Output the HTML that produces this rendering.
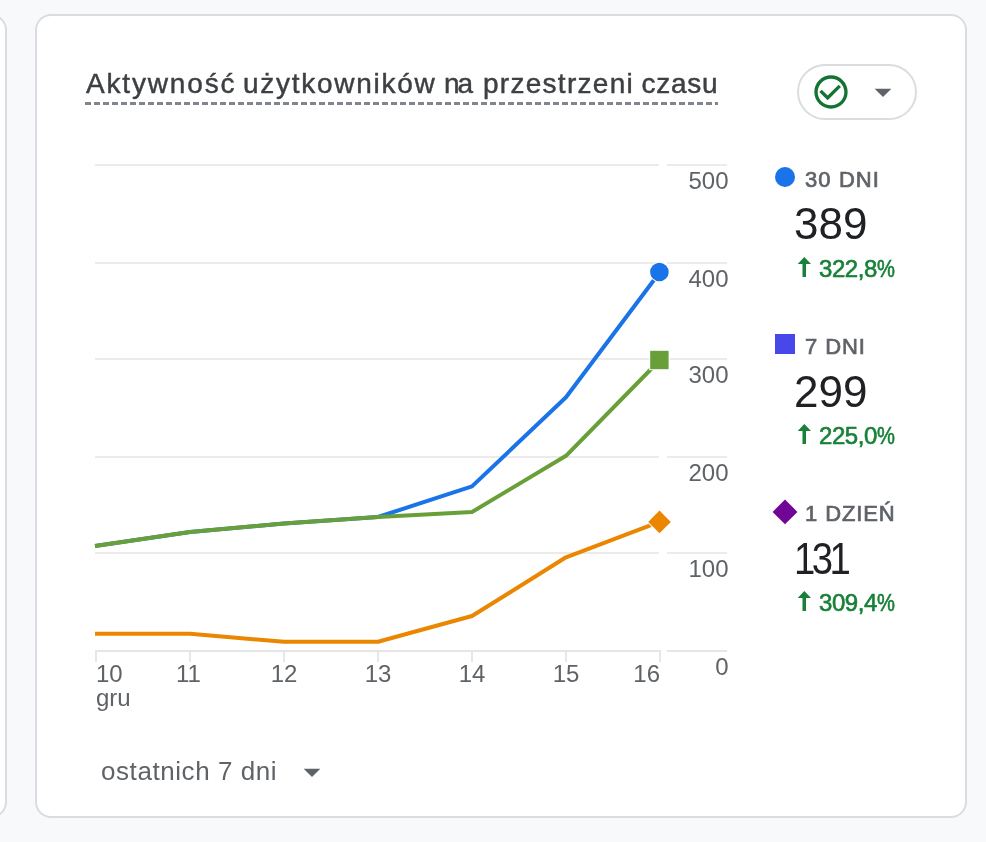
<!DOCTYPE html>
<html lang="pl">
<head>
<meta charset="utf-8">
<title>Aktywność użytkowników na przestrzeni czasu</title>
<style>
html,body{margin:0;padding:0}
body{width:986px;height:842px;overflow:hidden;position:relative;background:#f8f9fa;font-family:"Liberation Sans",sans-serif;color:#5f6368}
.card{position:absolute;box-sizing:border-box;background:#fff;border:2px solid #dadce0;border-radius:16px}
.layer{position:absolute;left:0;top:0;width:986px;height:842px;will-change:transform}
.abs{position:absolute;white-space:nowrap;margin:0}
.title span{position:absolute;top:0;font-size:28px;font-weight:400;-webkit-text-stroke:0.45px #3c4043;line-height:40px;color:#3c4043;white-space:nowrap}
.uline{position:absolute;left:85px;top:102px;width:633px;height:3px;background:repeating-linear-gradient(90deg,#80868b 0,#80868b 6px,transparent 6px,transparent 9px)}
.pill{position:absolute;left:797px;top:64px;width:120px;height:56px;box-sizing:border-box;border:2px solid #dadce0;border-radius:28px;background:#fff}
.lbl{font-size:22px;font-weight:400;letter-spacing:0.9px;line-height:26px;color:#5f6368;-webkit-text-stroke:0.7px #5f6368}
.num{font-size:44px;line-height:48px;color:#202124}
.delta{font-size:24px;font-weight:400;letter-spacing:-0.45px;line-height:28px;color:#188038;-webkit-text-stroke:0.6px #188038}
.delta i{font-style:normal;display:inline-block;transform:scaleX(.84);transform-origin:0 50%;margin-right:-3.4px}
.foot{font-size:26px;letter-spacing:0.57px;line-height:32px;color:#5f6368}
svg text{font-family:"Liberation Sans",sans-serif}
</style>
</head>
<body>
<div class="card" style="left:-120px;top:14px;width:127px;height:804px"></div>
<div class="card" style="left:35px;top:14px;width:932px;height:804px"></div>

<div class="layer">
<h2 class="abs title" style="left:0;top:64px;width:800px;height:40px">
<span style="left:86px;letter-spacing:1.83px">Aktywność</span>
<span style="left:243px;letter-spacing:1.73px">użytkowników</span>
<span style="left:444px;letter-spacing:-2px">na</span>
<span style="left:483px;letter-spacing:1.28px">przestrzeni</span>
<span style="left:641.5px;letter-spacing:0.75px">czasu</span>
</h2>
<div class="uline"></div>

<div class="pill"></div>
<svg class="abs" style="left:811px;top:72px" width="40" height="40" viewBox="0 0 24 24"><path fill="#137333" d="M16.59 7.58L10 14.17l-3.59-3.58L5 12l5 5 8-8zM12 2C6.48 2 2 6.48 2 12s4.48 10 10 10 10-4.48 10-10S17.52 2 12 2zm0 18c-4.41 0-8-3.59-8-8s3.590-8 8-8 8 3.590 8 8-3.590 8-8 8z"/></svg>
<svg class="abs" style="left:863px;top:72px" width="40" height="40" viewBox="0 0 24 24"><path fill="#5f6368" d="M7 10l5 5 5-5z"/></svg>

<!-- chart -->
<svg class="abs" style="left:0;top:0" width="986" height="842" viewBox="0 0 986 842">
<g stroke="#ebebeb" stroke-width="2">
<path d="M95 165H659M667 165H727M95 263H659M667 263H727M95 359H659M667 359H727M95 457H659M667 457H727M95 553H659M667 553H727"/>
</g>
<g stroke="#e6e6e6" stroke-width="2">
<path d="M95 651H661M667 651H727M96 651V662M190 651V662M284 651V662M378 651V662M472 651V662M566 651V662M660 651V662"/>
</g>
<g font-size="24" fill="#5f6368">
<text x="728.500" y="189" text-anchor="end">500</text>
<text x="728.500" y="287" text-anchor="end">400</text>
<text x="728.500" y="383" text-anchor="end">300</text>
<text x="728.500" y="481" text-anchor="end">200</text>
<text x="728.500" y="577" text-anchor="end">100</text>
<text x="728.500" y="675" text-anchor="end">0</text>
<text x="96" y="681.500">10</text>
<text x="96" y="705.500">gru</text>
<text x="188.500" y="681.500" text-anchor="middle">11</text>
<text x="284" y="681.500" text-anchor="middle">12</text>
<text x="378" y="681.500" text-anchor="middle">13</text>
<text x="472" y="681.500" text-anchor="middle">14</text>
<text x="566" y="681.500" text-anchor="middle">15</text>
<text x="660" y="681.500" text-anchor="end">16</text>
</g>
<g fill="none" stroke-width="4" stroke-linejoin="round" stroke-linecap="butt">
<polyline stroke="#1a73e8" points="95,546.100 190,532 284,523.500 378,517 472,486.400 566,397.300 660,272"/>
<polyline stroke="#ea8600" points="95,633.800 190,633.800 284,641.800 378,641.800 472,616 566,557.300 659.500,521.900"/>
<polyline stroke="#689f38" points="95,546.100 190,532 284,523.500 378,517 472,512 566,455.800 660,360"/>
</g>
<circle cx="659.400" cy="272" r="9.300" fill="#1a73e8" stroke="#fff" stroke-width="2" paint-order="stroke"/>
<rect x="650.200" y="350.800" width="18.400" height="18.400" fill="#689f38" stroke="#fff" stroke-width="2" paint-order="stroke"/>
<path d="M659.500 510.600L670.800 521.900L659.500 533.200L648.200 521.900Z" fill="#ea8600" stroke="#fff" stroke-width="2" paint-order="stroke"/>
<!-- legend markers -->
<circle cx="785" cy="177" r="10" fill="#1a73e8"/>
<rect x="775" y="334" width="20" height="20" fill="#4848ea"/>
<path d="M785 499.500L797.400 511.900L785 524.300L772.600 511.900Z" fill="#700596"/>
<path fill="#188038" d="M804.3 257L811 264H806V277H802.5V264H797.7Z"/>
<path fill="#188038" d="M804.3 424L811 431H806V444H802.5V431H797.7Z"/>
<path fill="#188038" d="M804.3 591L811 598H806V611H802.5V598H797.7Z"/>
</svg>

<!-- legend text -->
<div class="abs lbl" style="left:805px;top:166.5px;letter-spacing:1.1px">30 DNI</div>
<div class="abs num" style="left:794px;top:199.5px">389</div>
<div class="abs delta" style="left:819px;top:254.7px">322,8<i>%</i></div>

<div class="abs lbl" style="left:805px;top:333.5px">7 DNI</div>
<div class="abs num" style="left:794px;top:367.5px">299</div>
<div class="abs delta" style="left:819px;top:421.7px">225,0<i>%</i></div>

<div class="abs lbl" style="left:805px;top:500.5px">1 DZIEŃ</div>
<div class="abs num" style="left:794px;top:534.5px;letter-spacing:-4px;transform:scaleX(.87);transform-origin:0 0">131</div>
<div class="abs delta" style="left:819px;top:588.7px">309,4<i>%</i></div>

<div class="abs foot" style="left:101px;top:755px">ostatnich 7 dni</div>
<svg class="abs" style="left:292px;top:752px" width="40" height="40" viewBox="0 0 24 24"><path fill="#5f6368" d="M7 10l5 5 5-5z"/></svg>
</div>
</body>
</html>
